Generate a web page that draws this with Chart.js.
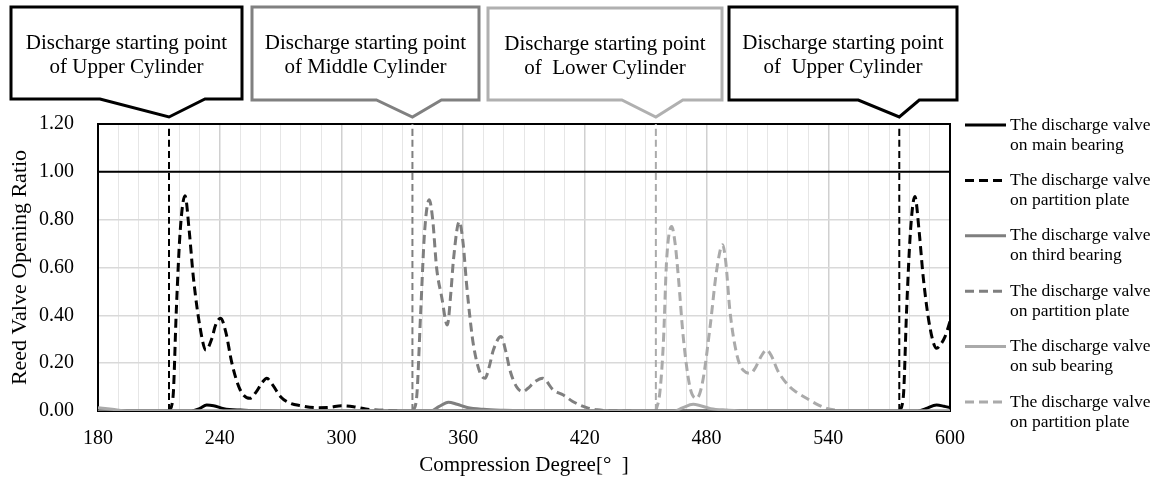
<!DOCTYPE html>
<html>
<head>
<meta charset="utf-8">
<script src="https://cdn.jsdelivr.net/npm/chart.js@4"></script>
<style>
  html, body { margin: 0; padding: 0; background: #fff; }
  #wrap { width: 1160px; height: 478px; position: relative; }
</style>
</head>
<body>
<div id="wrap"><canvas id="chart"></canvas></div>
<script>
// axis ranges / ticks
const xTickLabels = [180, 240, 300, 360, 420, 480, 540, 600];
const yTickLabels = [0, 0.2, 0.4, 0.6, 0.8, 1.0, 1.2];
const ratioLimit = 1.0;

// discharge starting points (deg) for upper, middle, lower, upper
const dischargeDeg = [215, 335, 455, 575];
const calloutText = [
  ["Discharge starting point", "of Upper Cylinder"],
  ["Discharge starting point", "of Middle Cylinder"],
  ["Discharge starting point", "of  Lower Cylinder"],
  ["Discharge starting point", "of  Upper Cylinder"]
];

const legendText = [
  ["The discharge valve", "on main bearing"],
  ["The discharge valve", "on partition plate"],
  ["The discharge valve", "on third bearing"],
  ["The discharge valve", "on partition plate"],
  ["The discharge valve", "on sub bearing"],
  ["The discharge valve", "on partition plate"]
];

// main bearing (solid black)
const mainDeg = [180, 226, 230, 233.6, 237, 242, 250, 262, 280, 584, 588, 593.4, 597, 600];
const mainVal = [0, 0, 0.01, 0.025, 0.022, 0.01, 0.004, 0.001, 0, 0, 0.01, 0.025, 0.02, 0.014];

// partition plate, upper cylinder (dashed black), two cycles
const upperDegA = [215, 217, 218.6, 220.5, 222.9, 225, 227, 230.3, 233.2, 236, 238, 240.5, 243, 246, 250, 254.9, 258, 261, 263.2, 266, 270, 274.6, 280, 287.8, 294, 300, 306, 312, 320, 330];
const upperValA = [0, 0.06, 0.42, 0.75, 0.90, 0.75, 0.56, 0.35, 0.255, 0.30, 0.36, 0.388, 0.33, 0.20, 0.09, 0.053, 0.08, 0.12, 0.137, 0.11, 0.06, 0.033, 0.022, 0.014, 0.015, 0.022, 0.018, 0.008, 0.003, 0];
const upperDegB = [575, 577, 578.6, 580.5, 582.7, 584.8, 586.8, 590.1, 593.4, 595.5, 597.5, 600];
const upperValB = [0, 0.06, 0.42, 0.75, 0.897, 0.75, 0.56, 0.35, 0.262, 0.28, 0.31, 0.374];

// third bearing (solid gray)
const thirdDeg = [180, 344, 348, 352.7, 357, 362, 370, 380, 395, 600];
const thirdVal = [0, 0, 0.018, 0.037, 0.028, 0.015, 0.007, 0.003, 0, 0];

// partition plate, middle cylinder (dashed gray)
const middleDeg = [335, 337, 339, 341, 343.3, 345, 346.9, 349.4, 352.2, 354, 355.2, 358.1, 360, 361.7, 363.5, 365, 368.3, 370.8, 373, 374.9, 378.7, 381, 383.1, 386.4, 389.3, 392, 395, 399.2, 404.4, 409.4, 414, 420.9, 426, 434, 445];
const middleVal = [0, 0.05, 0.4, 0.75, 0.883, 0.80, 0.60, 0.478, 0.36, 0.50, 0.63, 0.792, 0.70, 0.53, 0.38, 0.28, 0.16, 0.137, 0.19, 0.255, 0.311, 0.25, 0.17, 0.10, 0.081, 0.095, 0.12, 0.137, 0.088, 0.067, 0.04, 0.014, 0.005, 0.001, 0];

// sub bearing (solid light gray)
const subDeg = [180, 187, 195, 464, 468, 473.4, 477, 482, 490, 500, 600];
const subVal = [0.014, 0.007, 0, 0, 0.013, 0.028, 0.022, 0.01, 0.004, 0, 0];

// partition plate, lower cylinder (dashed light gray)
const lowerDeg = [455, 457, 458.7, 460.3, 462.8, 464.5, 466.1, 468.5, 471.8, 475.1, 478, 481.7, 485, 487.9, 489.5, 491.5, 494.8, 498.1, 501.8, 504, 507, 509.6, 512, 515, 521.1, 525, 529.3, 534, 539.2, 546];
const lowerVal = [0, 0.08, 0.284, 0.63, 0.771, 0.70, 0.56, 0.31, 0.10, 0.053, 0.12, 0.35, 0.59, 0.695, 0.62, 0.42, 0.24, 0.17, 0.158, 0.18, 0.23, 0.255, 0.23, 0.17, 0.10, 0.075, 0.053, 0.03, 0.011, 0];

const pts = (xs, ys) => xs.map((x, i) => ({ x: x, y: ys[i] }));

const BLACK = "#000000", GRAY = "#7f7f7f", LIGHT = "#aaaaaa";
const FONT = "'Liberation Serif', 'Times New Roman', serif";

const series = [
  { label: legendText[0], data: pts(mainDeg, mainVal), borderColor: BLACK, borderWidth: 3, borderDash: [], order: 3 },
  { label: legendText[1], data: pts(upperDegA, upperValA).concat([{ x: 450, y: null }], pts(upperDegB, upperValB)), borderColor: BLACK, borderWidth: 3, borderDash: [9, 5], order: 6 },
  { label: legendText[2], data: pts(thirdDeg, thirdVal), borderColor: GRAY, borderWidth: 3, borderDash: [], order: 2 },
  { label: legendText[3], data: pts(middleDeg, middleVal), borderColor: GRAY, borderWidth: 3, borderDash: [9, 5], order: 5 },
  { label: legendText[4], data: pts(subDeg, subVal), borderColor: LIGHT, borderWidth: 3, borderDash: [], order: 1 },
  { label: legendText[5], data: pts(lowerDeg, lowerVal), borderColor: LIGHT, borderWidth: 3, borderDash: [9, 5], order: 4 }
];

const markerColors = [BLACK, GRAY, LIGHT, BLACK];
const markers = dischargeDeg.map((d, i) => ({
  label: "marker", data: [{ x: d, y: 0 }, { x: d, y: 1.2 }],
  borderColor: markerColors[i], borderWidth: 2, borderDash: [7, 4], order: 9
}));
const limitLine = {
  label: "limit", data: [{ x: xTickLabels[0], y: ratioLimit }, { x: xTickLabels[xTickLabels.length - 1], y: ratioLimit }],
  borderColor: BLACK, borderWidth: 2, order: 8
};

const calloutBoxes = [
  { l: 11, t: 7, r: 242, b: 99, bl: -69, br: 36, color: BLACK },
  { l: 252, t: 7, r: 479, b: 100, bl: -36, br: 29, color: "#808080" },
  { l: 488, t: 8, r: 722, b: 100, bl: -34, br: 27, color: "#b0b0b0" },
  { l: 729, t: 7, r: 957, b: 100, bl: -41, br: 20, color: BLACK }
];

const overlay = {
  id: "overlay",
  beforeDatasetsDraw(chart) {
    const { ctx, chartArea: a } = chart;
    ctx.save();
    ctx.strokeStyle = BLACK;
    ctx.lineWidth = 2;
    ctx.strokeRect(a.left, a.top, a.right - a.left, a.bottom - a.top);
    ctx.restore();
  },
  afterDraw(chart) {
    const { ctx, chartArea: a } = chart;
    const xs = chart.scales.x;
    ctx.save();
    // callouts
    calloutBoxes.forEach((c, i) => {
      const tip = xs.getPixelForValue(dischargeDeg[i]);
      ctx.beginPath();
      ctx.moveTo(c.l, c.t);
      ctx.lineTo(c.r, c.t);
      ctx.lineTo(c.r, c.b);
      ctx.lineTo(tip + c.br, c.b);
      ctx.lineTo(tip, a.top - 7);
      ctx.lineTo(tip + c.bl, c.b);
      ctx.lineTo(c.l, c.b);
      ctx.closePath();
      ctx.fillStyle = "#fff";
      ctx.fill();
      ctx.lineWidth = 3;
      ctx.lineJoin = "miter";
      ctx.strokeStyle = c.color;
      ctx.stroke();
      ctx.fillStyle = "#000";
      ctx.font = "21px " + FONT;
      ctx.textAlign = "center";
      ctx.textBaseline = "alphabetic";
      const cx = (c.l + c.r) / 2;
      ctx.fillText(calloutText[i][0], cx, c.t + 42);
      ctx.fillText(calloutText[i][1], cx, c.t + 66);
    });
    // legend
    series.forEach((s, i) => {
      const y = 125 + i * 55.4;
      ctx.beginPath();
      ctx.setLineDash(s.borderDash);
      ctx.lineWidth = s.borderWidth;
      ctx.strokeStyle = s.borderColor;
      ctx.moveTo(965, y);
      ctx.lineTo(1006, y);
      ctx.stroke();
      ctx.setLineDash([]);
      ctx.fillStyle = "#000";
      ctx.font = "17.5px " + FONT;
      ctx.textAlign = "left";
      ctx.textBaseline = "middle";
      ctx.fillText(s.label[0], 1010, y);
      ctx.fillText(s.label[1], 1010, y + 20);
    });
    ctx.restore();
  }
};

new Chart(document.getElementById("chart"), {
  type: "line",
  data: {
    datasets: series.concat(markers, [limitLine]).map(d => Object.assign({
      pointRadius: 0, fill: false, tension: 0, cubicInterpolationMode: "monotone", spanGaps: false
    }, d))
  },
  options: {
    responsive: true,
    maintainAspectRatio: false,
    animation: false,
    layout: { padding: { left: 0, top: 124, right: 210, bottom: 0 } },
    plugins: { legend: { display: false }, tooltip: { enabled: false } },
    scales: {
      x: {
        type: "linear", min: 180, max: 600,
        afterFit: s => { s.height = 67; },
        border: { display: false },
        grid: {
          drawTicks: false,
          color: c => (c.tick && c.tick.value % 60 === 0) ? "#d0d0d0" : "#e6e6e6",
          lineWidth: c => (c.tick && c.tick.value % 60 === 0) ? 1.5 : 1
        },
        ticks: {
          stepSize: 10, autoSkip: false, maxRotation: 0, padding: 16,
          color: "#000", font: { family: FONT, size: 20 },
          callback: v => xTickLabels.includes(v) ? String(v) : ""
        },
        title: {
          display: true, text: "Compression Degree[°  ]", color: "#000",
          font: { family: FONT, size: 21 }, padding: { top: 0, bottom: 0 }
        }
      },
      y: {
        min: 0, max: 1.2,
        afterFit: s => { s.width = 98; },
        border: { display: false },
        grid: { drawTicks: false, color: "#d9d9d9", lineWidth: 1.5 },
        afterBuildTicks: s => { s.ticks = yTickLabels.map(v => ({ value: v })); },
        ticks: {
          padding: 24, color: "#000", font: { family: FONT, size: 20 },
          callback: v => Number(v).toFixed(2)
        },
        title: {
          display: true, text: "Reed Valve Opening Ratio", color: "#000",
          font: { family: FONT, size: 22 }, padding: { top: 7, bottom: 0 }
        }
      }
    }
  },
  plugins: [overlay]
});
</script>
</body>
</html>
